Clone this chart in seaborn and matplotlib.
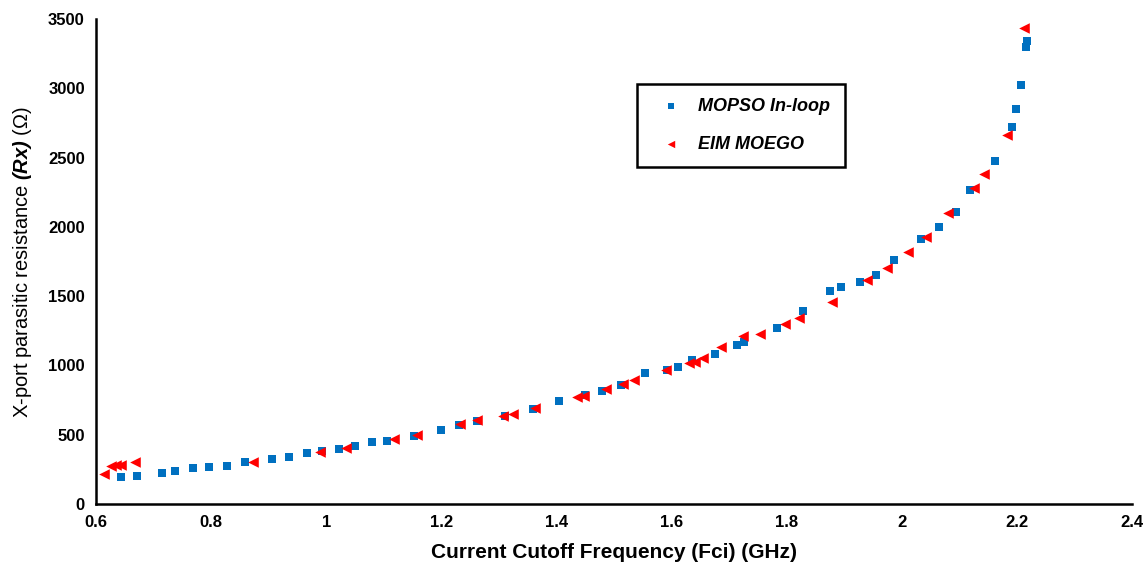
import numpy as np
import matplotlib
matplotlib.use("Agg")
import matplotlib.pyplot as plt
import seaborn as sb
import pandas as pd

# Données
mopso_fci = [0.643, 0.672, 0.715, 0.738, 0.769, 0.796, 0.828, 0.859, 0.906, 0.935,
             0.966, 0.993, 1.022, 1.050, 1.080, 1.106, 1.152, 1.199, 1.231, 1.262,
             1.311, 1.360, 1.405, 1.450, 1.479, 1.512, 1.554, 1.593, 1.611, 1.636,
             1.675, 1.714, 1.726, 1.784, 1.828, 1.875, 1.894, 1.927, 1.956, 1.986,
             2.034, 2.065, 2.094, 2.118, 2.162, 2.191, 2.199, 2.207, 2.216, 2.217]
mopso_rx = [193, 204, 226, 236, 260, 267, 276, 303, 325, 339,
            366, 382, 395, 416, 445, 456, 493, 536, 568, 601,
            633, 683, 741, 784, 818, 859, 948, 967, 989, 1037,
            1085, 1150, 1169, 1268, 1393, 1539, 1564, 1600, 1652, 1762,
            1915, 1997, 2105, 2264, 2477, 2723, 2848, 3021, 3300, 3339]

moego_fci = [0.614, 0.626, 0.634, 0.643, 0.668, 0.872, 0.989, 1.034, 1.118, 1.157,
             1.232, 1.262, 1.307, 1.324, 1.363, 1.436, 1.448, 1.487, 1.516, 1.535,
             1.591, 1.630, 1.640, 1.655, 1.686, 1.725, 1.754, 1.798, 1.822, 1.878,
             1.940, 1.975, 2.011, 2.043, 2.081, 2.125, 2.143, 2.183, 2.212]
moego_rx = [214, 272, 280, 285, 305, 303, 377, 406, 469, 500,
            579, 604, 633, 652, 690, 770, 779, 830, 866, 892,
            965, 1020, 1028, 1054, 1131, 1215, 1225, 1299, 1342, 1455,
            1616, 1701, 1821, 1929, 2102, 2278, 2379, 2665, 3437]

x_ticks = [0.6, 0.8, 1, 1.2, 1.4, 1.6, 1.8, 2, 2.2, 2.4]
x_tick_labels = ["0.6", "0.8", "1", "1.2", "1.4", "1.6", "1.8", "2", "2.2", "2.4"]
y_ticks = [0, 500, 1000, 1500, 2000, 2500, 3000, 3500]

df_mopso = pd.DataFrame({"Fci": mopso_fci, "Rx": mopso_rx})
df_moego = pd.DataFrame({"Fci": moego_fci, "Rx": moego_rx})

# Style
sb.set_theme(style="white")
plt.rcParams["font.family"] = ["Liberation Sans", "DejaVu Sans"]
plt.rcParams["text.color"] = "black"
plt.rcParams["axes.labelcolor"] = "black"
plt.rcParams["xtick.color"] = "black"
plt.rcParams["ytick.color"] = "black"
plt.rcParams["mathtext.fontset"] = "custom"
plt.rcParams["mathtext.rm"] = "Liberation Sans"
plt.rcParams["mathtext.bfit"] = "Liberation Sans:italic:bold"

fig = plt.figure(figsize=(11.48, 5.63), dpi=100)
ax = fig.add_axes([0.0836, 0.1048, 0.9024, 0.8614])

sb.scatterplot(data=df_mopso, x="Fci", y="Rx", marker="s", s=32, color="#0070C0",
               linewidth=0, label="MOPSO In-loop", ax=ax, zorder=3)
sb.scatterplot(data=df_moego, x="Fci", y="Rx", marker="<", s=58, color="#FF0000",
               linewidth=0, label="EIM MOEGO", ax=ax, zorder=4)

ax.set_xlim(0.6, 2.4)
ax.set_ylim(0, 3500)
ax.set_xticks(x_ticks)
ax.set_xticklabels(x_tick_labels)
ax.set_yticks(y_ticks)
for lab in ax.get_xticklabels() + ax.get_yticklabels():
    lab.set_fontweight("bold")
    lab.set_fontsize(12)
ax.tick_params(axis="both", direction="in", length=6, width=1.6, color="black",
               labelcolor="black", pad=8)

for cote in ["top", "right"]:
    ax.spines[cote].set_visible(False)
for cote in ["left", "bottom"]:
    ax.spines[cote].set_linewidth(1.8)
    ax.spines[cote].set_color("black")

ax.set_xlabel("Current Cutoff Frequency (Fci) (GHz)", fontsize=15, fontweight="bold", labelpad=9)
ax.set_ylabel("X-port parasitic resistance $\\mathbfit{(Rx)}$ (Ω)", fontsize=14.5, labelpad=10)

leg = ax.legend(loc="upper left", bbox_to_anchor=(0.522, 0.867), borderaxespad=0,
                fancybox=False, edgecolor="black", framealpha=1,
                prop={"weight": "bold", "style": "italic", "size": 13},
                markerscale=0.7, borderpad=0.8, labelspacing=1.15,
                handlelength=2.2, handletextpad=0.4)
leg.get_frame().set_linewidth(1.8)

fig.savefig("out.png", dpi=100)
